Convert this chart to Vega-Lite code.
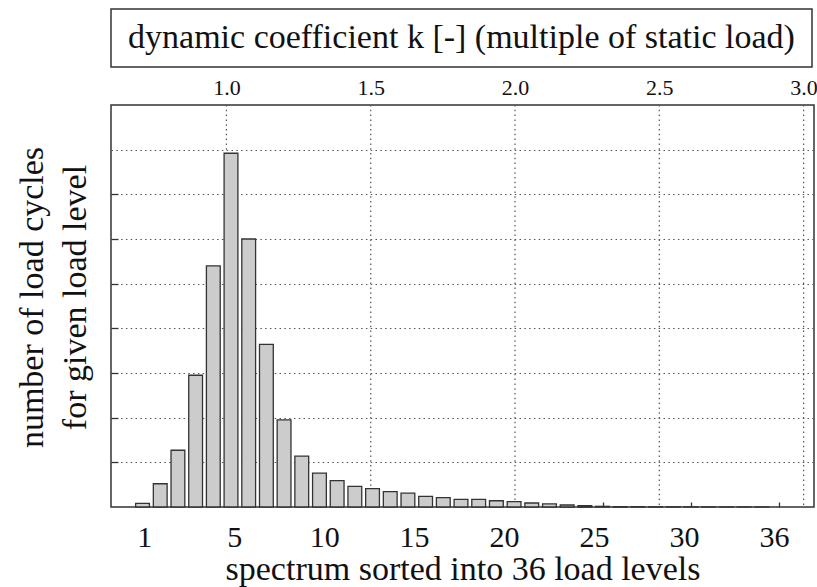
{
  "$schema": "https://vega.github.io/schema/vega-lite/v6.json",
  "padding": {"left": 14, "top": 8, "right": 2, "bottom": 2},
  "spacing": 7,
  "config": {
    "view": {"stroke": "#333", "strokeWidth": 1.5},
    "font": "Liberation Serif, Times New Roman, serif",
    "text": {"font": "Liberation Serif, Times New Roman, serif"},
    "axis": {"labelFont": "Liberation Serif, Times New Roman, serif", "titleFont": "Liberation Serif, Times New Roman, serif", "labelColor": "#111", "titleColor": "#111", "titleFontWeight": "normal"}
  },
  "vconcat": [
    {
      "width": 701,
      "height": 58,
      "view": {"stroke": "#333", "strokeWidth": 1.5},
      "data": {"values": [{"caption": "dynamic coefficient k [-] (multiple of static load)"}]},
      "mark": {"type": "text", "fontSize": 34, "color": "#111"},
      "encoding": {"text": {"field": "caption", "type": "nominal"}}
    },
    {
      "width": 703,
      "height": 402,
      "layer": [
        {
          "data": {"values": [{"k": 1.0}, {"k": 1.5}, {"k": 2.0}, {"k": 2.5}, {"k": 3.0}]},
          "mark": {"type": "rule", "strokeDash": [1.5, 3.3], "color": "#555", "strokeWidth": 1.2},
          "encoding": {
            "x": {
              "field": "k", "type": "quantitative",
              "scale": {"domain": [0.6, 3.036], "nice": false, "zero": false},
              "axis": {"orient": "top", "values": [1, 1.5, 2, 2.5, 3], "format": ".1f", "title": null, "ticks": false, "domain": false, "grid": false, "labelFontSize": 22, "labelPadding": 6}
            }
          }
        },
        {
          "data": {"values": [
            {"level": 1, "cycles": 0.08},
            {"level": 2, "cycles": 0.52},
            {"level": 3, "cycles": 1.27},
            {"level": 4, "cycles": 2.95},
            {"level": 5, "cycles": 5.40},
            {"level": 6, "cycles": 7.92},
            {"level": 7, "cycles": 6.00},
            {"level": 8, "cycles": 3.64},
            {"level": 9, "cycles": 1.95},
            {"level": 10, "cycles": 1.14},
            {"level": 11, "cycles": 0.76},
            {"level": 12, "cycles": 0.59},
            {"level": 13, "cycles": 0.46},
            {"level": 14, "cycles": 0.41},
            {"level": 15, "cycles": 0.345},
            {"level": 16, "cycles": 0.31},
            {"level": 17, "cycles": 0.24},
            {"level": 18, "cycles": 0.21},
            {"level": 19, "cycles": 0.17},
            {"level": 20, "cycles": 0.17},
            {"level": 21, "cycles": 0.14},
            {"level": 22, "cycles": 0.12},
            {"level": 23, "cycles": 0.09},
            {"level": 24, "cycles": 0.07},
            {"level": 25, "cycles": 0.045},
            {"level": 26, "cycles": 0.03},
            {"level": 27, "cycles": 0.015},
            {"level": 28, "cycles": 0.01},
            {"level": 29, "cycles": 0.008},
            {"level": 30, "cycles": 0.006},
            {"level": 31, "cycles": 0.005},
            {"level": 32, "cycles": 0.004},
            {"level": 33, "cycles": 0.003},
            {"level": 34, "cycles": 0.002},
            {"level": 35, "cycles": 0.002},
            {"level": 36, "cycles": 0.001}
          ]},
          "mark": {"type": "bar", "width": 13.8, "fill": "#cccccc", "stroke": "#333", "strokeWidth": 1.3},
          "encoding": {
            "x": {
              "field": "level", "type": "quantitative",
              "scale": {"domain": [-0.5, 38.67], "nice": false, "zero": false},
              "axis": {
                "orient": "bottom", "values": [2, 7, 12, 17, 22, 27, 32, 37],
                "labelExpr": "datum.value == 2 ? '1' : datum.value == 37 ? '36' : toString(datum.value - 2)",
                "title": "spectrum sorted into 36 load levels", "titleFontSize": 34, "titlePadding": 0,
                "labelFontSize": 30, "labelOffset": {"expr": "-16 + 0.3 * (datum.value - 2)"}, "labelPadding": 20, "tickSize": -5, "tickColor": "#333", "tickWidth": 1.3,
                "domain": false, "grid": false
              }
            },
            "y": {
              "field": "cycles", "type": "quantitative",
              "scale": {"domain": [0, 9], "nice": false},
              "axis": {
                "values": [1, 2, 3, 4, 5, 6, 7, 8], "labels": false, "tickSize": -7, "tickColor": "#333", "tickWidth": 1.3,
                "tickOpacity": {"expr": "datum.value == 8 ? 0 : 1"},
                "grid": true, "gridDash": [1.5, 3.3], "gridColor": "#555", "gridWidth": 1.2,
                "title": ["number of load cycles", "for given load level"], "titleFontSize": 34, "titleLineHeight": 43, "titlePadding": 18, "titleY": 192,
                "domain": false
              }
            }
          }
        }
      ],
      "resolve": {"scale": {"x": "independent"}, "axis": {"x": "independent"}}
    }
  ]
}
